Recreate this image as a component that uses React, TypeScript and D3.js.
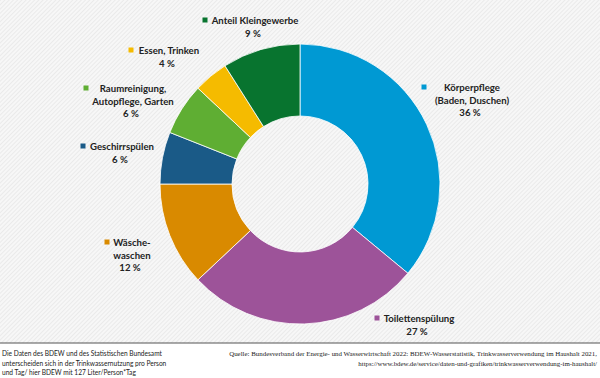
import React from "react";
import * as d3 from "d3";

const categories = [
  "Körperpflege (Baden, Duschen)",
  "Toilettenspülung",
  "Wäsche­waschen",
  "Geschirrspülen",
  "Raumreinigung, Autopflege, Garten",
  "Essen, Trinken",
  "Anteil Kleingewerbe",
];
const values = [36, 27, 12, 6, 6, 4, 9];
const labelLines = [
  ["Körperpflege", "(Baden, Duschen)"],
  ["Toilettenspülung"],
  ["Wäsche-", "waschen"],
  ["Geschirrspülen"],
  ["Raumreinigung,", "Autopflege, Garten"],
  ["Essen, Trinken"],
  ["Anteil Kleingewerbe"],
];
const colors = ["#0099d3", "#9d5399", "#d98a00", "#1a5a87", "#5fae33", "#f5bb00", "#08742f"];

// layout: label center x, first-line baseline y, marker x
const labelLayout = [
  { x: 472, y: 91, mx: 424 },
  { x: 419, y: 322, mx: 377 },
  { x: 132, y: 246, mx: 107 },
  { x: 122, y: 150, mx: 83 },
  { x: 133, y: 92, mx: 86 },
  { x: 169, y: 54, mx: 131 },
  { x: 255, y: 24, mx: 205 },
];

const footLeft = [
  "Die Daten des BDEW und des Statistischen Bundesamt",
  "unterscheiden sich in der Trinkwassernutzung pro Person",
  "und Tag/ hier BDEW mit 127 Liter/Person*Tag",
];
const footRight = [
  "Quelle: Bundesverband der Energie- und Wasserwirtschaft 2022: BDEW-Wasserstatistik, Trinkwasserverwendung im Haushalt 2021,",
  "https://www.bdew.de/service/daten-und-grafiken/trinkwasserverwendung-im-haushalt/",
];

export default function App() {
  const W = 600, H = 378;
  const cx = 300, cy = 184, R = 140, r = 68;
  const pie = d3.pie<number>().sort(null).value((d) => d)(values);
  const arc = d3.arc<d3.PieArcDatum<number>>().innerRadius(r).outerRadius(R);
  const lh = 12.5;
  return (
    <svg width={W} height={H} style={{ position: "absolute", left: 0, top: 0 }}>
      <defs>
        <pattern id="hatch" width="3" height="3" patternUnits="userSpaceOnUse" patternTransform="rotate(45)">
          <rect width="3" height="3" fill="#f7f7f7" />
          <line x1="0" y1="0" x2="0" y2="3" stroke="#e2e2e2" strokeWidth="1.2" />
        </pattern>
      </defs>
      <rect width={W} height={343} fill="url(#hatch)" />
      <rect y={343} width={W} height={H - 343} fill="#fff" />
      <line x1={0} x2={W} y1={343} y2={343} stroke="#555" strokeWidth={1} />
      <g transform={`translate(${cx},${cy})`}>
        {pie.map((p, i) => (
          <path key={categories[i]} d={arc(p) || ""} fill={colors[i]} stroke="#fff" strokeWidth={0.8} />
        ))}
      </g>
      <g fontFamily="Lato, 'Open Sans', sans-serif" fontWeight={700} fontSize={9.6} fill="#222" textAnchor="middle">
        {labelLines.map((lines, i) => {
          const L = labelLayout[i];
          return (
            <g key={i}>
              <rect x={L.mx - 2.5} y={L.y - 6.5} width={5} height={5} fill={colors[i]} />
              {lines.map((t, j) => (
                <text key={j} x={L.x} y={L.y + j * lh}>{t}</text>
              ))}
              <text x={L.x - 2} y={L.y + lines.length * lh}>{values[i]} %</text>
            </g>
          );
        })}
      </g>
      <g fontFamily="Lato, sans-serif" fontSize={6.6} fill="#222">
        {footLeft.map((t, i) => (
          <text key={i} x={2} y={356 + i * 9.5}>{t}</text>
        ))}
      </g>
      <g fontFamily="'Liberation Serif', serif" fontSize={6.9} fill="#222" textAnchor="end">
        {footRight.map((t, i) => (
          <text key={i} x={597} y={356 + i * 9.5}>{t}</text>
        ))}
      </g>
    </svg>
  );
}
